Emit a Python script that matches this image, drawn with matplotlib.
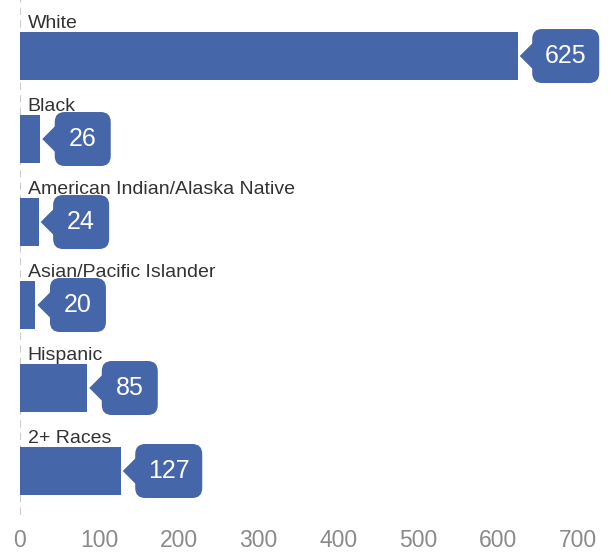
import matplotlib
matplotlib.use('Agg')
import matplotlib.pyplot as plt
from matplotlib.patches import FancyBboxPatch, Polygon
from matplotlib.transforms import Affine2D, ScaledTranslation

plt.rcParams['font.family'] = ['Liberation Sans', 'DejaVu Sans']

groups = ['White', 'Black', 'American Indian/Alaska Native',
          'Asian/Pacific Islander', 'Hispanic', '2+ Races']
counts = [625, 26, 24, 20, 85, 127]
ticks = [0, 100, 200, 300, 400, 500, 600, 700]

BLUE = '#4566a9'

W, H = 610, 552
fig = plt.figure(figsize=(W / 100, H / 100), dpi=100)
# axes placed in pixel terms: x 0 at px 19.5, 700 at px 577.5; y rows 0..515
ax = fig.add_axes([19.5 / W, (H - 515) / H, 558 / W, 515 / H])
ax.set_xlim(0, 700)
ax.set_ylim(5.530, -0.675)

ypos = list(range(len(groups)))
ax.barh(ypos, counts, height=0.578, color=BLUE, zorder=2)
ax.axvline(0, color='#cccccc', lw=1.5, ls=(0, (3.5, 2.5)), zorder=1)

for i, (g, v) in enumerate(zip(groups, counts)):
    ax.annotate(g, xy=(0, i), xytext=(8, 28), textcoords='offset pixels',
                fontsize=14, color='#333333', va='baseline', ha='left')
    # callout bubble, built in pixel units around the bar end
    trans = Affine2D() + ScaledTranslation(v, i, ax.transData)
    w = 67 if v >= 100 else 56
    box = FancyBboxPatch((14.5, -27), w, 54,
                         boxstyle='round,pad=0,rounding_size=10',
                         fc=BLUE, ec='none', transform=trans, zorder=3,
                         clip_on=False)
    tri = Polygon([(2, 0), (16, 14), (16, -14)], closed=True, fc=BLUE,
                  ec='none', transform=trans, zorder=3, clip_on=False)
    ax.add_patch(box)
    ax.add_patch(tri)
    ax.annotate(str(v), xy=(v, i), xytext=(14.5 + w / 2, 0),
                textcoords='offset pixels', ha='center', va='center',
                fontsize=18, color='white', zorder=4)

ax.set_xticks(ticks)
ax.set_xticklabels([str(t) for t in ticks])
ax.tick_params(axis='x', length=0, pad=10, labelsize=16.5, labelcolor='#8a8a8a')
ax.set_yticks([])
for s in ax.spines.values():
    s.set_visible(False)

fig.savefig('out.png', dpi=100)
